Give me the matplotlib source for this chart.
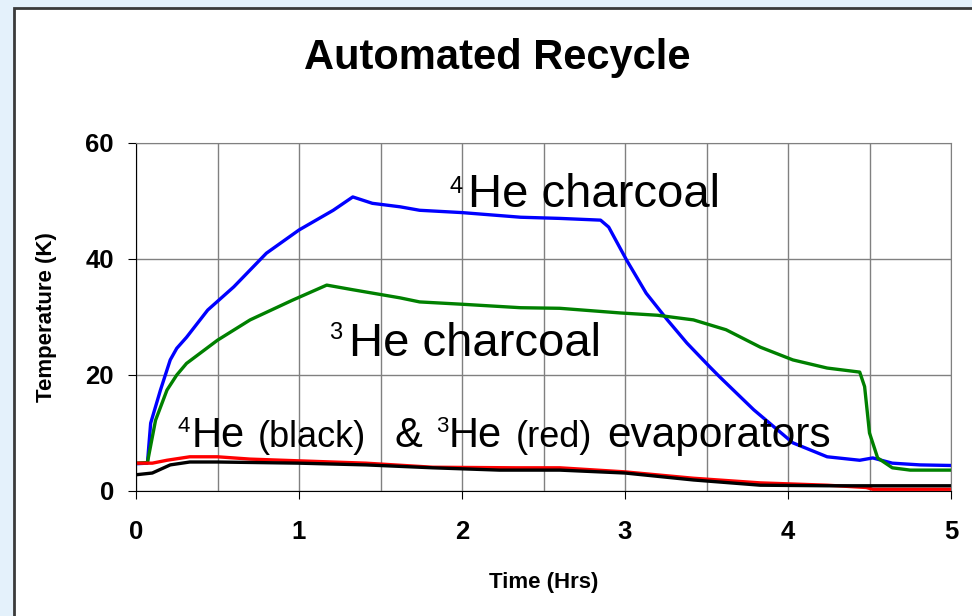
import matplotlib.pyplot as plt
from matplotlib.patches import Rectangle

plt.rcParams['font.family'] = ['Liberation Sans', 'DejaVu Sans']

# -------------------------------
# Datos
# -------------------------------
t_he4_charcoal = [0, 0.07, 0.09, 0.15, 0.21, 0.25, 0.31, 0.44, 0.6, 0.8, 1.0, 1.21, 1.33, 1.45,
                  1.62, 1.74, 2.0, 2.36, 2.6, 2.85, 2.9, 3.01, 3.13, 3.26, 3.38, 3.52,
                  3.58, 3.79, 4.03, 4.24, 4.44, 4.52, 4.64, 4.81, 5.0]
T_he4_charcoal = [4.7, 4.8, 11.7, 17.4, 22.6, 24.6, 26.5, 31.2, 35.2, 41.0, 45.0, 48.4, 50.7, 49.6,
                  49.0, 48.4, 48.0, 47.2, 47.0, 46.7, 45.5, 39.8, 34.1, 29.5, 25.5, 21.4,
                  19.7, 14.0, 8.3, 5.9, 5.3, 5.7, 4.8, 4.5, 4.4]

t_he3_charcoal = [0, 0.07, 0.12, 0.19, 0.25, 0.31, 0.5, 0.7, 0.96, 1.17, 1.33, 1.62, 1.74, 2.0,
                  2.36, 2.6, 2.97, 3.2, 3.42, 3.62, 3.83, 4.03, 4.24, 4.44, 4.47, 4.5,
                  4.55, 4.64, 4.75, 5.0]
T_he3_charcoal = [4.8, 4.9, 12.2, 17.4, 20.0, 22.0, 26.0, 29.5, 32.9, 35.5, 34.7, 33.3, 32.6, 32.2,
                  31.6, 31.5, 30.7, 30.3, 29.5, 27.8, 24.8, 22.6, 21.2, 20.5, 18.0, 10.0,
                  5.7, 4.0, 3.6, 3.6]

t_he3_evap = [0, 0.1, 0.19, 0.33, 0.5, 0.7, 1.0, 1.41, 1.82, 2.33, 2.6, 3.0, 3.42, 3.83,
              4.24, 4.48, 4.52, 5.0]
T_he3_evap = [4.8, 4.8, 5.3, 5.9, 5.9, 5.5, 5.2, 4.8, 4.1, 4.0, 4.0, 3.3, 2.2, 1.4,
              1.0, 0.6, 0.3, 0.3]

t_he4_evap = [0, 0.1, 0.21, 0.33, 0.5, 1.0, 1.41, 1.82, 2.23, 2.6, 3.0, 3.42, 3.83, 4.24, 5.0]
T_he4_evap = [2.8, 3.1, 4.5, 5.0, 5.0, 4.8, 4.5, 4.0, 3.6, 3.6, 3.1, 1.9, 1.0, 0.9, 0.9]

x_ticks = [0, 1, 2, 3, 4, 5]
x_grid = [0.5, 1.5, 2.5, 3.5, 4.5]
y_ticks = [0, 20, 40, 60]

# -------------------------------
# Figura
# -------------------------------
fig = plt.figure(figsize=(9.72, 6.16), dpi=100)
fig.patch.set_facecolor('#E4F1FB')
fig.patches.append(Rectangle((14 / 972, -0.1), 1.1, 0.1 + (616 - 8) / 616,
                             transform=fig.transFigure, facecolor='white',
                             edgecolor='#3a3a3a', linewidth=2, zorder=-5))

ax = fig.add_axes([136 / 972, 125 / 616, 815 / 972, 348 / 616])
ax.set_zorder(2)
ax.set_facecolor('white')

ax.plot(t_he4_charcoal, T_he4_charcoal, color='#0000FF', lw=2.4)
ax.plot(t_he3_charcoal, T_he3_charcoal, color='#008000', lw=2.4)
ax.plot(t_he3_evap, T_he3_evap, color='#FF0000', lw=2.4)
ax.plot(t_he4_evap, T_he4_evap, color='black', lw=2.4)

ax.set_xlim(0, 5)
ax.set_ylim(0, 60)
ax.set_xticks(x_ticks)
ax.set_xticks(x_grid, minor=True)
ax.set_yticks(y_ticks)
ax.grid(True, which='both', axis='x', color='#808080', lw=1)
ax.grid(True, which='major', axis='y', color='#808080', lw=1)
ax.set_axisbelow(True)

for s in ['top', 'right']:
    ax.spines[s].set_color('#808080')
for s in ['left', 'bottom']:
    ax.spines[s].set_color('black')

ax.tick_params(axis='x', which='major', direction='out', length=6, pad=15,
               labelsize=18.5, color='black')
ax.tick_params(axis='x', which='minor', length=0)
ax.tick_params(axis='y', direction='out', length=6, pad=10, labelsize=18.5, color='black')
for lab in ax.get_xticklabels() + ax.get_yticklabels():
    lab.set_fontweight('bold')

ax.set_xlabel('Time (Hrs)', fontsize=16, fontweight='bold')
ax.set_ylabel('Temperature (K)', fontsize=16, fontweight='bold')
ax.xaxis.set_label_coords(0.5, -0.233)
ax.yaxis.set_label_coords(-0.097, 0.5)

fig.text(497 / 972, 1 - 58 / 616, 'Automated Recycle', fontsize=30, fontweight='bold',
         ha='center', va='center')

# -------------------------------
# Etiquetas dentro del grafico
# -------------------------------
ax.text(1.926, 51.4, '4', fontsize=17, va='baseline')
ax.text(2.037, 49.0, 'He charcoal', fontsize=34, va='baseline')
ax.text(1.184, 26.2, '3', fontsize=17, va='baseline')
ax.text(1.307, 23.3, 'He charcoal', fontsize=34, va='baseline')

yb = 7.6
ax.text(0.252, 10.2, '4', fontsize=16, va='baseline')
ax.text(0.344, yb, 'He', fontsize=30, va='baseline')
ax.text(0.748, yb, '(black)', fontsize=26, va='baseline')
ax.text(1.583, yb, '&', fontsize=30, va='baseline')
ax.text(1.84, 10.2, '3', fontsize=16, va='baseline')
ax.text(1.92, yb, 'He', fontsize=30, va='baseline')
ax.text(2.33, yb, '(red)', fontsize=26, va='baseline')
ax.text(2.89, yb, 'evaporators', fontsize=30.5, va='baseline')

fig.savefig('out.png', dpi=100, facecolor=fig.get_facecolor())
